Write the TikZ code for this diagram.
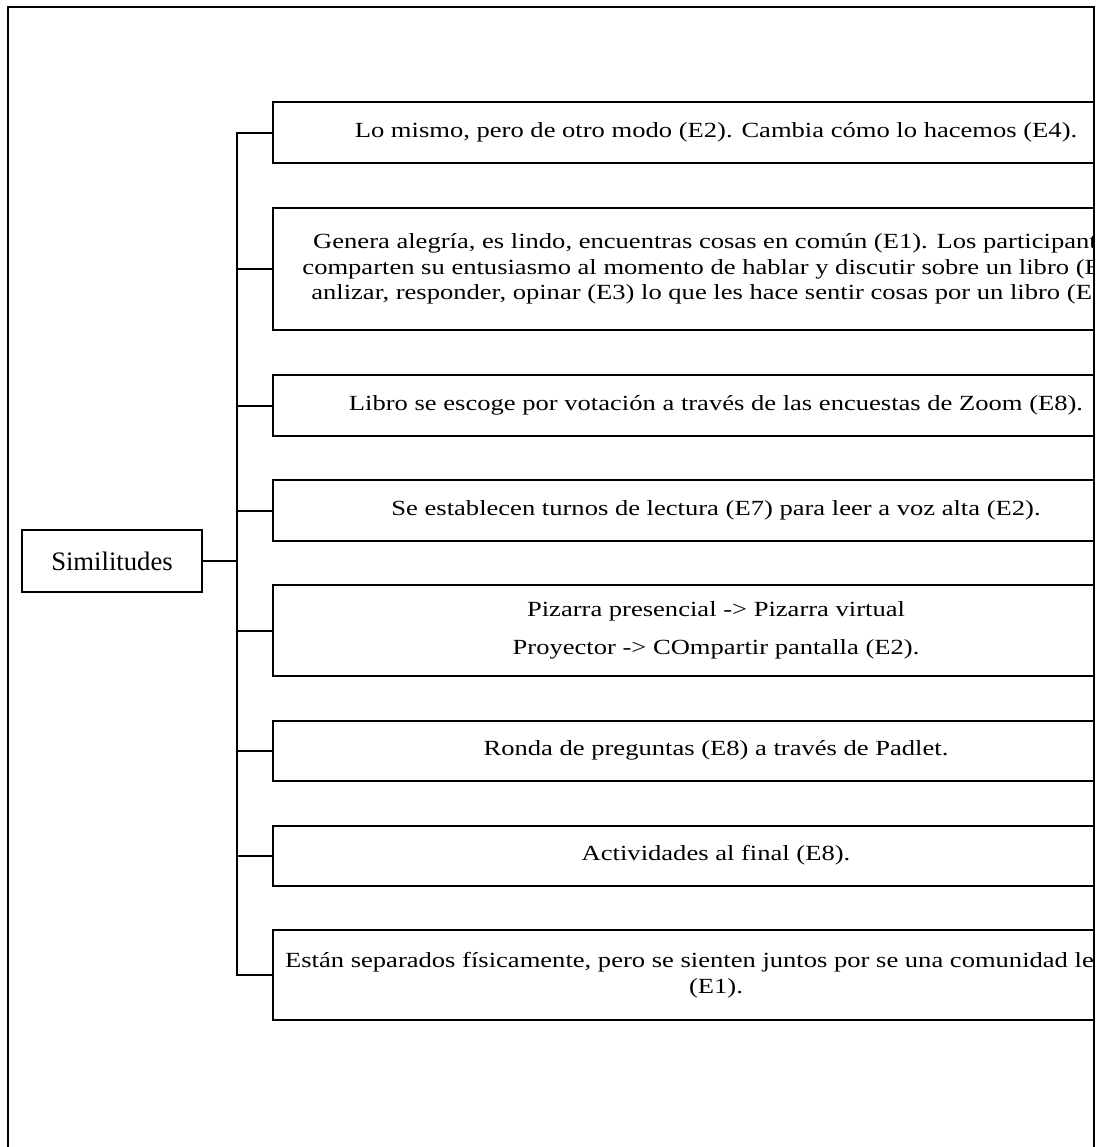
\documentclass[tikz,border=0pt]{standalone}
\usepackage{fontspec}
\setmainfont{Liberation Serif}
% item texts are set in a horizontally widened serif
\newfontfamily\itemfont[FakeStretch=1.23]{Liberation Serif}
\begin{document}
\begin{tikzpicture}[x=0.75pt,y=-0.75pt,
  line width=1.5pt,
  itembox/.style={draw, anchor=west, inner sep=0pt, align=center,
    minimum width=886*0.75pt,
    font=\itemfont\fontsize{16.2pt}{19.1pt}\selectfont},
  rootbox/.style={draw, inner sep=0pt, minimum width=180*0.75pt,
    minimum height=62*0.75pt, font=\fontsize{20pt}{24pt}\selectfont}]
\useasboundingbox (0,0) rectangle (1102,1147);
\clip (0,0) rectangle (1102,1147);

\begin{scope}
\clip (0,0) rectangle (1094,1147);
\node[rootbox] (sim) at (112,561) {Similitudes};
\coordinate (trunk) at (237,0);

\node[itembox, minimum height=61*0.75pt] (b1) at (272,132.5)
  {Lo mismo, pero de otro modo (E2). Cambia cómo lo hacemos (E4).};
\node[itembox, minimum height=122*0.75pt] (b2) at (272,269)
  {Genera alegría, es lindo, encuentras cosas en común (E1). Los participantes\\
   comparten su entusiasmo al momento de hablar y discutir sobre un libro (E5),\\
   anlizar, responder, opinar (E3) lo que les hace sentir cosas por un libro (E6).};
\node[itembox, minimum height=61*0.75pt] (b3) at (272,405.5)
  {Libro se escoge por votación a través de las encuestas de Zoom (E8).};
\node[itembox, minimum height=61*0.75pt] (b4) at (272,510.5)
  {Se establecen turnos de lectura (E7) para leer a voz alta (E2).};
\node[itembox, minimum height=91*0.75pt] (b5) at (272,630.5)
  {Pizarra presencial -> Pizarra virtual\\[9.4pt]
   Proyector -> COmpartir pantalla (E2).};
\node[itembox, minimum height=60*0.75pt] (b6) at (272,750.5)
  {Ronda de preguntas (E8) a través de Padlet.};
\node[itembox, minimum height=60*0.75pt] (b7) at (272,855.5)
  {Actividades al final (E8).};
\node[itembox, minimum height=90*0.75pt] (b8) at (272,975)
  {Están separados físicamente, pero se sienten juntos por se una comunidad lectora\\
   (E1).};

% bracket joining the root to every item
\draw (sim.east) -- (sim.east -| trunk);
\draw (b1.west) -- (b1.west -| trunk) -- (b8.west -| trunk) -- (b8.west);
\foreach \b in {b2,b3,b4,b5,b6,b7}
  \draw (\b.west) -- (\b.west -| trunk);
\end{scope}

% outer frame
\draw[line width=1.6pt] (8,1160) -- (8,7) -- (1094,7) -- (1094,1160);
\end{tikzpicture}
\end{document}
